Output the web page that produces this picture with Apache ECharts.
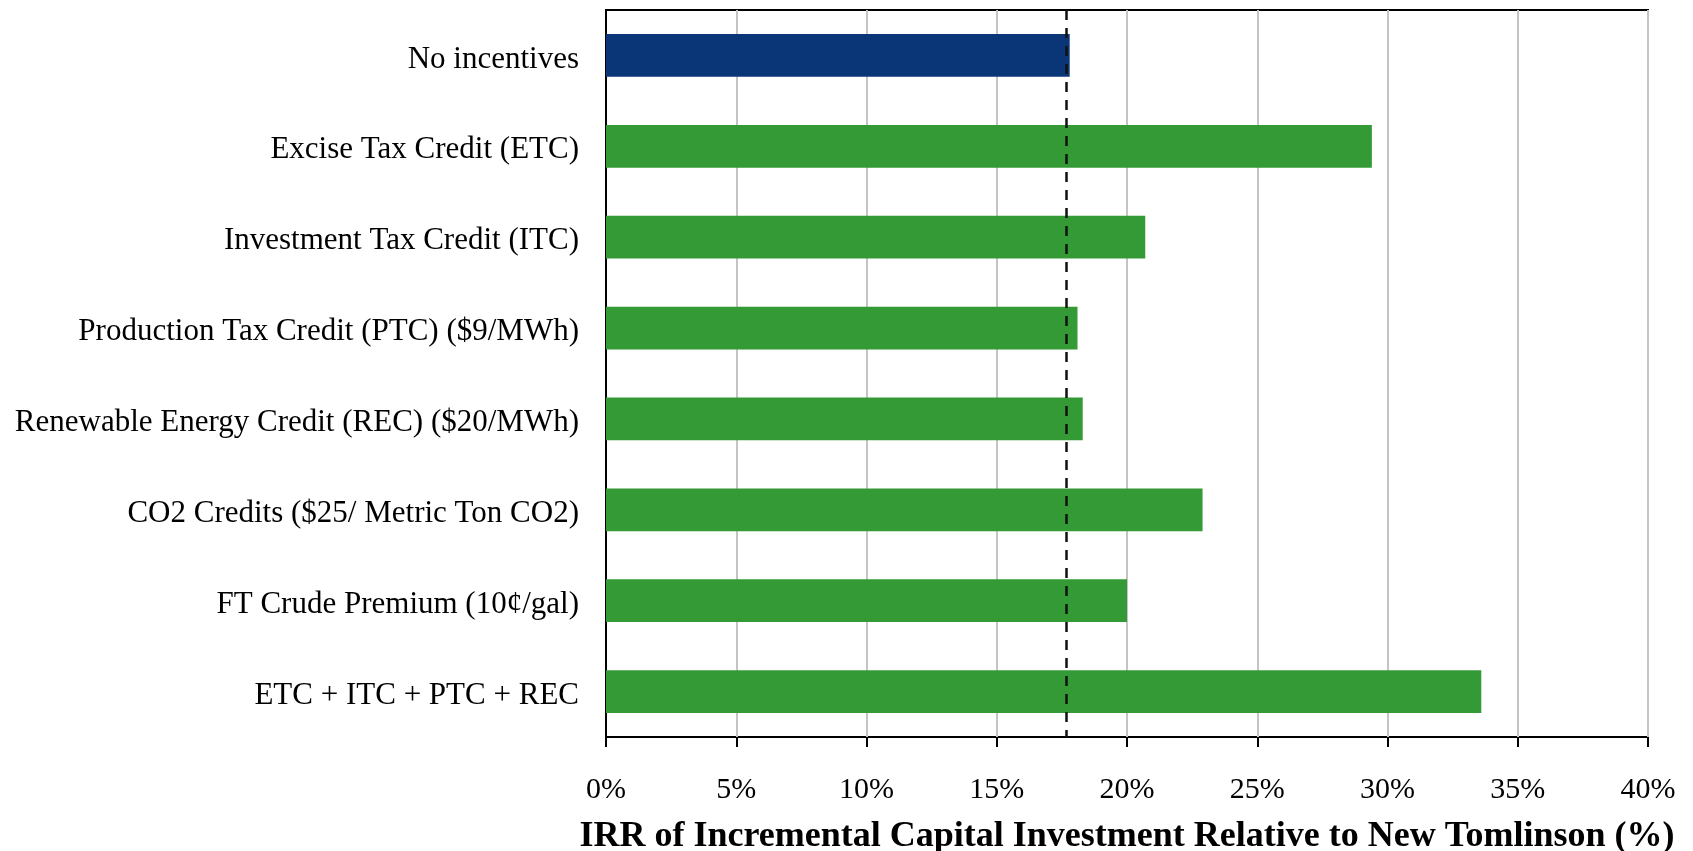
<!DOCTYPE html>
<html>
<head>
<meta charset="utf-8">
<title>IRR of Incremental Capital Investment</title>
<script src="https://cdn.jsdelivr.net/npm/echarts@6/dist/echarts.min.js"></script>
<style>
	html, body { margin: 0; padding: 0; background: #fff; }
	#chart { width: 1693px; height: 851px; }
</style>
</head>
<body>
<div id="chart"></div>
<script>
var categories = [
	'No incentives',
	'Excise Tax Credit (ETC)',
	'Investment Tax Credit (ITC)',
	'Production Tax Credit (PTC) ($9/MWh)',
	'Renewable Energy Credit (REC) ($20/MWh)',
	'CO2 Credits ($25/ Metric Ton CO2)',
	'FT Crude Premium (10\u00a2/gal)',
	'ETC + ITC + PTC + REC'
];
var irrValues = [17.8, 29.4, 20.7, 18.1, 18.3, 22.9, 20.0, 33.6];
var baselineIrr = 17.65;
var xTicks = [0, 5, 10, 15, 20, 25, 30, 35, 40];

var font = '"Liberation Serif", "DejaVu Serif", serif';

/* first bar is the base case, the rest are the incentives */
var barData = irrValues.map(function (v, i) {
	return {
		value: v,
		itemStyle: { color: i === 0 ? '#0a3677' : '#349a35' }
	};
});

var chart = echarts.init(document.getElementById('chart'));
var option = {
	backgroundColor: '#fff',
	animation: false,
	grid: {
		left: 606,
		right: 45,
		top: 10,
		bottom: 114,
		outerBoundsMode: 'none',
		containLabel: false,
		show: true,
		borderColor: '#000',
		borderWidth: 2
	},
	xAxis: {
		type: 'value',
		min: xTicks[0],
		max: xTicks[xTicks.length - 1],
		interval: 5,
		name: 'IRR of Incremental Capital Investment Relative to New Tomlinson (%)',
		nameLocation: 'middle',
		nameGap: 82,
		nameTextStyle: {
			fontFamily: font,
			fontSize: 36,
			fontWeight: 'bold',
			color: '#000'
		},
		axisLine: { lineStyle: { color: '#000', width: 2 } },
		axisTick: { show: true, length: 10, lineStyle: { color: '#000', width: 2 } },
		axisLabel: {
			formatter: '{value}%',
			fontFamily: font,
			fontSize: 30,
			color: '#000',
			margin: 38
		},
		splitLine: { show: true, lineStyle: { color: '#c4c4c4', width: 2 } }
	},
	yAxis: {
		type: 'category',
		data: categories,
		inverse: true,
		axisLine: { lineStyle: { color: '#000', width: 2 } },
		axisTick: { show: false },
		axisLabel: {
			formatter: '{c|{value}}',
			margin: 27,
			rich: {
				c: {
					fontFamily: font,
					fontSize: 31,
					color: '#000',
					padding: [8, 0, 0, 0]
				}
			}
		},
		splitLine: { show: false }
	},
	series: [{
		type: 'bar',
		data: barData,
		barCategoryGap: '53%',
		markLine: {
			silent: true,
			symbol: 'none',
			label: { show: false },
			lineStyle: { color: '#111', width: 2.5, type: [10, 8] },
			data: [{ xAxis: baselineIrr }]
		}
	}]
};
chart.setOption(option);
</script>
</body>
</html>
